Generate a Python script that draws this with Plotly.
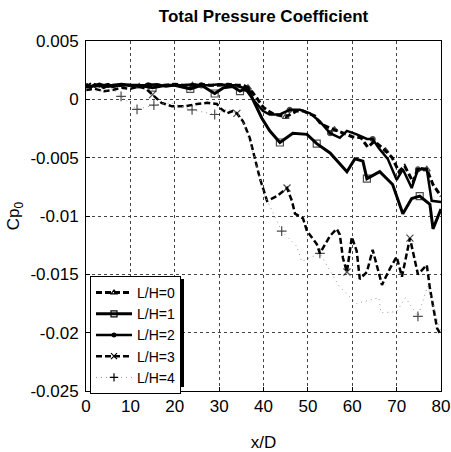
import plotly.graph_objects as go

# ---------------- data ----------------
x_lh0 = [0, 1, 2, 3, 4, 5, 6, 8, 10, 12, 14, 16, 18, 20, 22, 24, 26, 28, 30, 32, 34,
         35.5, 36.5, 37.5, 38.5, 40, 41.5, 42.5, 44, 45, 46.5, 47.5, 49, 50, 51.5, 52.7,
         54, 56, 58.5, 60, 62, 63.5, 65, 67.5, 69, 70.5, 71.8, 73.7, 74.8, 76.8, 78.2, 80]
y_lh0 = [0.0010, 0.0013, 0.0011, 0.0012, 0.0010, 0.0012, 0.0011, 0.0012, 0.0012, 0.0011,
         0.0013, 0.0012, 0.0012, 0.0013, 0.0012, 0.0012, 0.0013, 0.0012, 0.0012, 0.0013,
         0.0012, 0.0012, 0.0010, 0.0006, 0.0001, -0.0007, -0.0011, -0.0013, -0.0014, -0.0015,
         -0.0012, -0.0010, -0.0010, -0.0012, -0.0014, -0.0020, -0.0023, -0.0026, -0.0030,
         -0.0032, -0.0033, -0.0041, -0.0036, -0.0044, -0.0050, -0.0062, -0.0057, -0.0071,
         -0.0059, -0.0060, -0.0073, -0.0083]
mk_lh0 = [12, 24, 36.5, 45, 56, 67.5, 76.8]

x_lh1 = [0, 1, 2, 3, 4, 5, 6, 8, 10, 12, 15, 18, 20, 23.5, 26, 29, 31, 33, 34.7, 36.5,
         37.6, 39.6, 41.4, 43.7, 46.6, 49.8, 52, 55, 58.8, 60.6, 62.4, 63.3, 66.2, 69.1,
         71.4, 73.4, 75.2, 77.5, 78.2, 80]
y_lh1 = [0.0013, 0.0011, 0.0012, 0.0013, 0.0012, 0.0011, 0.0012, 0.0013, 0.0012, 0.0012,
         0.0010, 0.0012, 0.0012, 0.0009, 0.0012, 0.0005, 0.0010, 0.0011, 0.0007, 0.0010,
         0.0000, -0.0016, -0.0027, -0.0037, -0.0029, -0.0030, -0.0038, -0.0046, -0.0062,
         -0.0051, -0.0053, -0.0068, -0.0062, -0.0073, -0.0098, -0.0085, -0.0083, -0.0090,
         -0.0111, -0.0094]
mk_lh1 = [15, 23.5, 29, 34.7, 43.7, 52, 63.3, 75.2]

x_lh2 = [0, 1, 2, 3, 4, 5, 6, 8, 10, 12, 14, 16, 18, 20, 22, 24, 26, 28, 30, 32, 34,
         35.9, 37.6, 39.9, 41.4, 43.7, 45.9, 48.2, 50.5, 52.7, 55, 57.2, 58.8, 61, 63.3,
         64.6, 66, 68, 70, 71.4, 73.4, 74.8, 76.8, 77.9, 80]
y_lh2 = [0.0012, 0.0010, 0.0013, 0.0011, 0.0012, 0.0013, 0.0011, 0.0012, 0.0012, 0.0012,
         0.0012, 0.0013, 0.0011, 0.0012, 0.0012, 0.0013, 0.0012, 0.0012, 0.0013, 0.0012,
         0.0012, 0.0009, 0.0000, -0.0010, -0.0013, -0.0013, -0.0009, -0.0009, -0.0012,
         -0.0019, -0.0029, -0.0033, -0.0027, -0.0030, -0.0034, -0.0034, -0.0042, -0.0051,
         -0.0069, -0.0060, -0.0076, -0.0060, -0.0060, -0.0087, -0.0088]
mk_lh2 = [14, 26, 35.9, 45.9, 55, 64.6, 74.8]

x_lh3 = [0, 2, 4, 6, 8, 10, 12, 13.5, 15, 17, 19.4, 22.3, 25, 27.3, 29.5, 30.4, 31.8,
         33.1, 34, 35.4, 36.9, 37.6, 39.2, 40.8, 43, 45.3, 46.4, 47.1, 48.9, 49.8, 52,
         52.7, 55, 56.5, 57.2, 57.9, 58.8, 59.9, 61, 61.7, 63.3, 64.6, 66.7, 68.5, 70,
         71.2, 73, 74.8, 76.8, 77.5, 79.1, 80]
y_lh3 = [0.0008, 0.0009, 0.0007, 0.0008, 0.0010, 0.0009, 0.0011, 0.0009, 0.0004, -0.0003,
         -0.0006, -0.0006, -0.0004, -0.0003, -0.0004, -0.0008, -0.0012, -0.0010, -0.0012,
         -0.0019, -0.0033, -0.0043, -0.0068, -0.0087, -0.0083, -0.0076, -0.0087, -0.0098,
         -0.0102, -0.0113, -0.0124, -0.0132, -0.0117, -0.0111, -0.0116, -0.0136, -0.0148,
         -0.0118, -0.0130, -0.0154, -0.0148, -0.0129, -0.0159, -0.0145, -0.0135, -0.0152,
         -0.0119, -0.0150, -0.0142, -0.0162, -0.0196, -0.0202]
mk_lh3 = [15, 34, 45.3, 58.8, 73]

x_lh4 = [0, 3, 6, 7.9, 11.5, 15.3, 19, 23.9, 29, 32, 35, 38, 40, 44.1, 47.5, 48.6, 52.7,
         57, 61, 66, 66.5, 70, 72, 74.8, 77, 80]
y_lh4 = [0.0008, 0.0007, 0.0009, 0.00026, -0.00086, -0.0005, -0.0003, -0.0009, -0.0013,
         -0.0008, -0.0015, -0.0050, -0.0080, -0.0113, -0.0126, -0.0139, -0.0132, -0.0160,
         -0.0175, -0.0170, -0.0183, -0.0182, -0.0170, -0.0186, -0.0160, -0.0200]
mk_lh4 = [7.9, 11.5, 15.3, 23.9, 29, 44.1, 52.7, 74.8]

series_names = ["L/H=0", "L/H=1", "L/H=2", "L/H=3", "L/H=4"]

x_ticks = [0, 10, 20, 30, 40, 50, 60, 70, 80]
x_tick_text = ["0", "10", "20", "30", "40", "50", "60", "70", "80"]
y_ticks = [0.005, 0, -0.005, -0.01, -0.015, -0.02, -0.025]
y_tick_text = ["0.005", "0", "-0.005", "-0.01", "-0.015", "-0.02", "-0.025"]

# ---------------- figure ----------------
FONT = "Liberation Sans, Arial, sans-serif"


def sizes(xs, marks, s):
    return [s if v in marks else 0 for v in xs]


styles = [
    (x_lh0, y_lh0, mk_lh0, dict(color="black", width=3, dash="6px,3px"), "triangle-up-open", 6),
    (x_lh1, y_lh1, mk_lh1, dict(color="black", width=3), "square-open", 7),
    (x_lh2, y_lh2, mk_lh2, dict(color="black", width=2.5), "circle", 5),
    (x_lh3, y_lh3, mk_lh3, dict(color="black", width=2.5, dash="6px,3px"), "x-thin-open", 7),
    (x_lh4, y_lh4, mk_lh4, dict(color="#9a9a9a", width=1, dash="1px,4px"), "cross-thin-open", 7),
]

fig = go.Figure()
for name, (xs, ys, mk, line, sym, ms) in zip(series_names, styles):
    fig.add_trace(go.Scatter(
        x=xs, y=ys, name=name, mode="lines+markers", line=line,
        legendgroup=name, showlegend=False,
        marker=dict(symbol=sym, size=sizes(xs, mk, ms), color="black",
                    line=dict(color="black", width=1.2)),
    ))
# legend entries (line + single marker sample)
for name, (xs, ys, mk, line, sym, ms) in zip(series_names, styles):
    fig.add_trace(go.Scatter(
        x=[None], y=[None], name=name, mode="lines+markers", line=line,
        legendgroup=name, showlegend=True,
        marker=dict(symbol=sym, size=ms - 1, color="black",
                    line=dict(color="black", width=1.2)),
    ))

# legend shadow (thick border right/bottom)
L, T, W, H = 86, 41, 355, 350


def px(p):
    return (p - L) / W


def py(p):
    return (T + H - p) / H


fig.add_shape(type="rect", xref="paper", yref="paper",
              x0=px(93), x1=px(184), y0=py(387), y1=py(279),
              fillcolor="black", line=dict(width=0), layer="above")

fig.update_layout(
    width=451, height=452,
    margin=dict(l=L, r=451 - L - W, t=T, b=452 - T - H, autoexpand=False),
    paper_bgcolor="white", plot_bgcolor="white",
    font=dict(family=FONT, size=17, color="black"),
    title=dict(text="<b>Total Pressure Coefficient</b>", x=(L + W / 2) / 451, xanchor="center",
               y=1 - 16 / 452, yanchor="middle", font=dict(size=17)),
    showlegend=True,
    legend=dict(x=px(90), y=py(276), xanchor="left", yanchor="top",
                bgcolor="white", bordercolor="black", borderwidth=1,
                font=dict(size=14), tracegroupgap=0, itemwidth=36),
    xaxis=dict(range=[0, 80], tickvals=x_ticks, ticktext=x_tick_text, automargin=False,
               showline=True, mirror=True, linecolor="black", linewidth=1,
               ticks="inside", ticklen=4, tickcolor="black",
               showgrid=True, gridcolor="#444", griddash="dot", gridwidth=1,
               zeroline=False, tickfont=dict(size=17),
               title=dict(text="x/D", font=dict(size=17), standoff=22)),
    yaxis=dict(range=[-0.025, 0.005], tickvals=y_ticks, ticktext=y_tick_text, automargin=False,
               showline=True, mirror=True, linecolor="black", linewidth=1,
               ticks="inside", ticklen=4, tickcolor="black", ticklabelstandoff=3,
               showgrid=True, gridcolor="#444", griddash="dot", gridwidth=1,
               zeroline=False, tickfont=dict(size=17),
               title=dict(text="Cp<sub>0</sub>", font=dict(size=17), standoff=6)),
)

fig.write_html("out.html")
